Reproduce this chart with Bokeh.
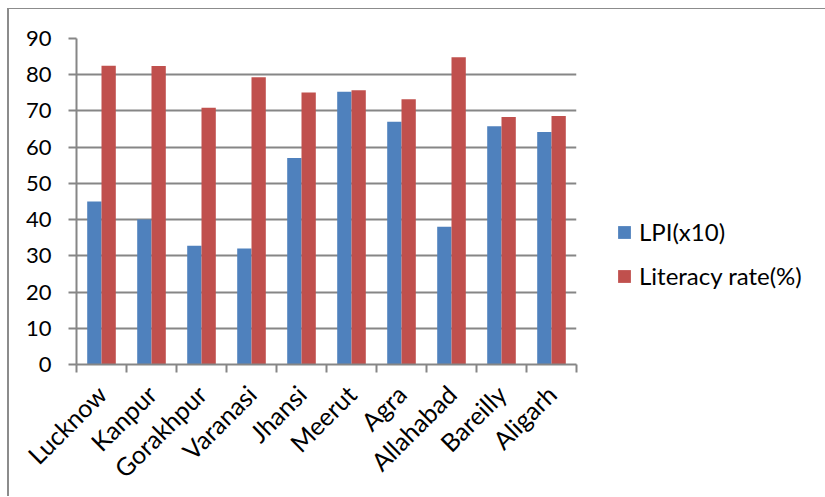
import numpy as np
from bokeh.plotting import figure
from bokeh.models import (ColumnDataSource, Range1d, FixedTicker, Legend, LegendItem)
from bokeh.embed import file_html
from bokeh.resources import INLINE

cities = ["Lucknow", "Kanpur", "Gorakhpur", "Varanasi", "Jhansi",
          "Meerut", "Agra", "Allahabad", "Bareilly", "Aligarh"]
lpi_x10 = [45.0, 40.0, 32.8, 32.0, 57.0, 75.3, 67.0, 38.0, 65.8, 64.2]
literacy = [82.5, 82.4, 70.9, 79.3, 75.1, 75.7, 73.2, 84.8, 68.3, 68.6]
y_ticks = [0, 10, 20, 30, 40, 50, 60, 70, 80, 90]
series_names = ["LPI(x10)", "Literacy rate(%)"]
colors = ["#4F81BD", "#C0504D"]

FONT = "Lato"
GRAY = "#868686"

n = len(cities)
centers = np.arange(n) + 0.5
bar_w = 0.286

src = ColumnDataSource(dict(
    city=cities,
    xc=centers,
    x_lpi=centers - bar_w / 2,
    x_lit=centers + bar_w / 2,
    lpi=lpi_x10,
    lit=literacy,
))

p = figure(frame_width=500, frame_height=326,
           x_range=Range1d(0, n), y_range=Range1d(y_ticks[0], y_ticks[-1]),
           output_backend="svg", toolbar_location=None,
           min_border_left=67, min_border_top=29, min_border_bottom=123,
           min_border_right=240)
p.styles = {"margin-left": "7px", "margin-top": "8px",
            "border-left": "2px solid #8c8c8c", "border-top": "1px solid #8c8c8c"}
p.outline_line_color = None
p.background_fill_color = "white"
p.border_fill_color = "white"

r1 = p.vbar(x="x_lpi", top="lpi", width=bar_w, source=src,
            fill_color=colors[0], line_color=None)
r2 = p.vbar(x="x_lit", top="lit", width=bar_w, source=src,
            fill_color=colors[1], line_color=None)

# x axis: labels at centres, tick marks at category boundaries
xa = p.xaxis[0]
xa.ticker = FixedTicker(ticks=list(centers), minor_ticks=list(np.arange(n + 1)))
xa.major_label_overrides = {float(c): name for c, name in zip(centers, cities)}
xa.major_tick_out = 0
xa.major_tick_in = 0
xa.minor_tick_out = 8
xa.minor_tick_in = 0
xa.minor_tick_line_color = GRAY
xa.minor_tick_line_width = 2
xa.axis_line_color = GRAY
xa.axis_line_width = 2
xa.major_label_orientation = np.pi / 4
xa.major_label_text_font = FONT
xa.major_label_text_font_size = "25px"
xa.major_label_text_color = "black"
xa.major_label_standoff = 17

ya = p.yaxis[0]
ya.ticker = FixedTicker(ticks=y_ticks)
ya.major_tick_out = 8
ya.major_tick_in = 0
ya.minor_tick_line_color = None
ya.major_tick_line_color = GRAY
ya.major_tick_line_width = 2
ya.axis_line_color = GRAY
ya.axis_line_width = 2
ya.major_label_text_font = FONT
ya.major_label_text_font_size = "22px"
ya.major_label_text_color = "black"
ya.major_label_standoff = 17

p.xgrid.grid_line_color = None
p.ygrid.ticker = FixedTicker(ticks=y_ticks)
p.ygrid.grid_line_color = GRAY
p.ygrid.grid_line_width = 2

legend = Legend(items=[LegendItem(label=series_names[0], renderers=[r1]),
                       LegendItem(label=series_names[1], renderers=[r2])],
                location=(40, 74), orientation="vertical")
legend.glyph_width = 16
legend.glyph_height = 16
legend.label_standoff = 7
legend.label_text_font = FONT
legend.label_text_font_size = "24px"
legend.label_text_color = "black"
legend.label_height = 20
legend.spacing = 15
legend.padding = 0
legend.margin = 0
legend.border_line_color = None
legend.background_fill_alpha = 0
p.add_layout(legend, "right")

open("out.html", "w").write(file_html(p, INLINE))
